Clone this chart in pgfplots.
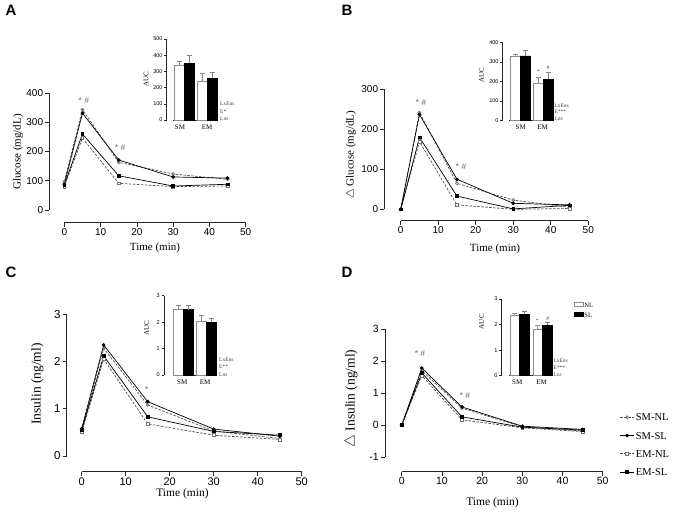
\documentclass[border=0pt]{standalone}
\usepackage{fontspec}
\setmainfont{Liberation Serif}
\setsansfont{Liberation Sans}
\usepackage{pgfplots}
\pgfplotsset{compat=1.18}

\pgfplotsset{
  dataax/.style={anchor=south west, scale only axis, clip=false, hide x axis, hide y axis},
  % separate axes for the offset (GraphPad style) axis lines
  lineax/.style={
    anchor=south west, scale only axis, clip=false, tick pos=left,
    tick align=outside,
    axis line style={black!85, line width=0.7pt},
    tick style={black!85, line width=0.7pt},
    /pgf/number format/assume math mode=true,
  },
  xonly/.style={lineax, height=10pt, ymin=0, ymax=1, axis x line*=bottom, hide y axis,
    xmin=0, xmax=50, xtick={0,10,...,50}, major tick length=4pt,
    xticklabel style={inner sep=1.5pt}},
  yonly/.style={lineax, width=10pt, xmin=0, xmax=1, axis y line*=left, hide x axis,
    major tick length=4pt, yticklabel style={inner sep=2pt}},
  yinonly/.style={lineax, width=10pt, xmin=0, xmax=1, ymin=0, axis y line*=left, hide x axis,
    major tick length=2.5pt, axis line style={line width=0.6pt}, tick style={line width=0.6pt},
    yticklabel style={font=\sffamily\fontsize{5.5}{6}\selectfont, inner sep=1.5pt}},
  inax/.style={
    anchor=south west, scale only axis, clip=false,
    axis x line*=bottom, hide y axis, tick pos=left,
    xmin=0, ymin=0,
    x tick style={draw=none}, major tick length=0pt,
    axis line style={black!85, line width=0.6pt},
    xticklabel style={font=\fontsize{7}{8}\selectfont, yshift=-1pt},
  },
  smnl/.style={black!70, line width=0.7pt, dash pattern=on 2.5pt off 1.5pt, mark=o, mark size=1.5pt, mark options={solid, draw=black!55, fill=white}},
  smsl/.style={black, line width=0.7pt, mark=*, mark size=1.5pt, mark options={solid, fill=black}},
  emnl/.style={black!70, line width=0.7pt, dash pattern=on 2.5pt off 1.5pt, mark=square*, mark size=1.4pt, mark options={solid, draw=black!55, fill=white}},
  emsl/.style={black, line width=0.7pt, mark=square*, mark size=1.4pt, mark options={solid, fill=black}},
  nlbar/.style={ybar, bar width=10pt, bar shift=0pt, fill=white, draw=black!45, line width=0.7pt,
    error bars/.cd, y dir=plus, y explicit, error bar style={black!45, line width=0.6pt},
    error mark options={rotate=90, mark size=2.5pt, black!45, line width=0.6pt}},
  slbar/.style={ybar, bar width=10pt, bar shift=0pt, fill=black, draw=black, line width=0.7pt,
    error bars/.cd, y dir=plus, y explicit, error bar style={black!50, line width=0.6pt},
    error mark options={rotate=90, mark size=2.5pt, black!50, line width=0.6pt}},
}
\newcommand{\panel}[1]{\sffamily\bfseries\fontsize{15}{16}\selectfont #1}
\newcommand{\sig}{\sffamily\fontsize{8.5}{10}\selectfont\color{black!60}}
\newcommand{\stat}{\fontsize{5.5}{6}\selectfont\color{black!75}}
% #1 x of xmin, #2 y of x line, #3 width, #4 tick font size
\newcommand{\xline}[4]{\begin{axis}[xonly, at={(#1,#2)}, width=#3,
  xticklabel style={font=\sffamily\fontsize{#4}{#4}\selectfont}]\end{axis}}
% #1 x of y line, #2 y of ymin, #3 height, #4 tick font size, #5 options
\newcommand{\yline}[5]{\begin{axis}[yonly, at={(#1,#2)}, height=#3,
  yticklabel style={font=\sffamily\fontsize{#4}{#4}\selectfont}, #5]\end{axis}}
\newcommand{\yinline}[4]{\begin{axis}[yinonly, at={(#1,#2)}, height=#3, #4]\end{axis}}

\begin{document}
\begin{tikzpicture}
\useasboundingbox (0pt,0pt) rectangle (675pt,-515pt);

% ---------- A ----------
\node at (11pt,-10pt) {\panel{A}};
\node[rotate=90] at (18pt,-152pt) {\fontsize{11}{13}\selectfont Glucose (mg/dL)};
\node[inner sep=0pt] at (155pt,-248pt) {\fontsize{11}{13}\selectfont Time (min)};
\xline{64.3pt}{-222.7pt}{181.4pt}{10}
\yline{49.3pt}{-210pt}{117pt}{10}{ymin=0, ymax=400, ytick={0,100,...,400}}
\begin{axis}[dataax, at={(64.3pt,-210pt)}, width=181.4pt, height=117pt,
  xmin=0, xmax=50, ymin=0, ymax=400]
  \addplot[smnl] coordinates {(0,97) (5,343) (15,163) (30,123) (45,105)};
  \addplot[smsl] coordinates {(0,88) (5,331) (15,171) (30,113) (45,109)};
  \addplot[emnl] coordinates {(0,80) (5,246) (15,91) (30,80) (45,82)};
  \addplot[emsl] coordinates {(0,85) (5,260) (15,117) (30,82) (45,88)};
  \node at (axis cs:5.4,373) {\sig * \#};
  \node at (axis cs:15.4,215) {\sig * \#};
\end{axis}
\yinline{166.7pt}{-120pt}{81pt}{ymax=500, ytick={0,100,...,500}}
\begin{axis}[inax, at={(173pt,-120pt)}, width=45pt, height=81pt,
  xmax=45, ymax=500, xtick={7,34}, xticklabels={SM,EM}]
  \addplot[nlbar] coordinates {(6,340) +- (0,20) (29.3,238) +- (0,50)};
  \addplot[slbar] coordinates {(16,350) +- (0,47) (39.3,258) +- (0,36)};
\end{axis}
\node[rotate=90] at (146pt,-79pt) {\fontsize{7}{8}\selectfont AUC};
\node[anchor=west, inner sep=0pt] at (220pt,-104pt) {\stat LxEns};
\node[anchor=west, inner sep=0pt] at (220pt,-111.5pt) {\stat E*};
\node[anchor=west, inner sep=0pt] at (220pt,-118.5pt) {\stat Lns};

% ---------- B ----------
\node at (347pt,-10pt) {\panel{B}};
\node[rotate=90] at (351pt,-155pt) {\fontsize{11}{13}\selectfont $\triangle$ Glucose (mg/dL)};
\node[inner sep=0pt] at (495pt,-249pt) {\fontsize{11}{13}\selectfont Time (min)};
\xline{400.7pt}{-220.7pt}{187.6pt}{10}
\yline{384.3pt}{-209.3pt}{120pt}{10}{ymin=0, ymax=300, ytick={0,100,200,300}}
\begin{axis}[dataax, at={(400.7pt,-209.3pt)}, width=187.6pt, height=120pt,
  xmin=0, xmax=50, ymin=0, ymax=300]
  \addplot[smnl] coordinates {(0,0) (5,242) (15,65) (30,23) (45,5)};
  \addplot[smsl] coordinates {(0,0) (5,237) (15,75) (30,15) (45,11)};
  \addplot[emnl] coordinates {(0,0) (5,169) (15,11) (30,0) (45,2)};
  \addplot[emsl] coordinates {(0,0) (5,180) (15,33) (30,1) (45,10)};
  \node at (axis cs:5.4,266) {\sig * \#};
  \node at (axis cs:16.1,106) {\sig * \#};
\end{axis}
\yinline{502.7pt}{-120.3pt}{78pt}{ymax=400, ytick={0,100,...,400}}
\begin{axis}[inax, at={(509pt,-120.3pt)}, width=44pt, height=78pt,
  xmax=44, ymax=400, xtick={11.7,33.7}, xticklabels={SM,EM}]
  \addplot[nlbar] coordinates {(6.3,326) +- (0,14) (29,192) +- (0,31)};
  \addplot[slbar] coordinates {(16,330) +- (0,27) (39,211) +- (0,33)};
\end{axis}
\node at (538.3pt,-71.7pt) {\stat *};
\node at (548.3pt,-67.3pt) {\stat \#};
\node[rotate=90] at (481.7pt,-75pt) {\fontsize{7}{8}\selectfont AUC};
\node[anchor=west, inner sep=0pt] at (554.3pt,-106pt) {\stat LxEns};
\node[anchor=west, inner sep=0pt] at (554.3pt,-112pt) {\stat E***};
\node[anchor=west, inner sep=0pt] at (554.3pt,-119pt) {\stat Lns};

% ---------- C ----------
\node at (11pt,-272pt) {\panel{C}};
\node[rotate=90] at (37.5pt,-384pt) {\fontsize{13.5}{15}\selectfont Insulin (ng/ml)};
\node[inner sep=0pt] at (182.5pt,-494pt) {\fontsize{11.5}{13}\selectfont Time (min)};
\xline{81.7pt}{-471.7pt}{220pt}{11}
\yline{66.7pt}{-456pt}{141.7pt}{11.5}{ymin=0, ymax=3, ytick={0,1,2,3}}
\begin{axis}[dataax, at={(81.7pt,-456pt)}, width=220pt, height=141.7pt,
  xmin=0, xmax=50, ymin=0, ymax=3]
  \addplot[smnl] coordinates {(0,0.55) (5,2.28) (15,1.08) (30,0.53) (45,0.37)};
  \addplot[smsl] coordinates {(0,0.58) (5,2.35) (15,1.15) (30,0.57) (45,0.42)};
  \addplot[emnl] coordinates {(0,0.50) (5,2.05) (15,0.68) (30,0.44) (45,0.35)};
  \addplot[emsl] coordinates {(0,0.55) (5,2.12) (15,0.83) (30,0.52) (45,0.44)};
  \node at (axis cs:14.8,1.40) {\sig *};
\end{axis}
\yinline{164pt}{-375pt}{79.3pt}{ymax=3, ytick={0,1,2,3}}
\begin{axis}[inax, at={(173pt,-375pt)}, width=44pt, height=79.3pt,
  xmax=44, ymax=3, xtick={9.3,32}, xticklabels={SM,EM}]
  \addplot[nlbar] coordinates {(5.3,2.5) +- (0,0.15) (28.7,2.02) +- (0,0.25)};
  \addplot[slbar] coordinates {(15.3,2.47) +- (0,0.15) (38.7,2.0) +- (0,0.14)};
\end{axis}
\node[rotate=90] at (146.7pt,-328.3pt) {\fontsize{7}{8}\selectfont AUC};
\node[anchor=west, inner sep=0pt] at (219pt,-360pt) {\stat LxEns};
\node[anchor=west, inner sep=0pt] at (219pt,-366.7pt) {\stat E**};
\node[anchor=west, inner sep=0pt] at (219pt,-374.3pt) {\stat Lns};

% ---------- D ----------
\node at (347pt,-272pt) {\panel{D}};
\node[rotate=90] at (351pt,-398.5pt) {\fontsize{13.5}{15}\selectfont $\triangle$ Insulin (ng/ml)};
\node[inner sep=0pt] at (492.5pt,-503pt) {\fontsize{11.5}{13}\selectfont Time (min)};
\xline{401.7pt}{-471.7pt}{201pt}{10.5}
\yline{385pt}{-457.3pt}{128.3pt}{10.5}{ymin=-1, ymax=3, ytick={-1,0,1,2,3}}
\begin{axis}[dataax, at={(401.7pt,-457.3pt)}, width=201pt, height=128.3pt,
  xmin=0, xmax=50, ymin=-1, ymax=3,
  legend style={at={(1.0687,0.3706)}, anchor=north west, draw=none, fill=none,
    font=\fontsize{10.5}{12}\selectfont, row sep=7.8pt,
    nodes={inner sep=1.5pt, text height=7.5pt, text depth=0pt}},
  legend cell align=left,
  legend image code/.code={\draw[mark repeat=2, mark phase=2, #1] plot coordinates {(0pt,0pt) (7pt,0pt) (14pt,0pt)};}]
  \addplot[smnl] coordinates {(0,0) (5,1.70) (15,0.53) (30,-0.05) (45,-0.18)};
  \addplot[smsl] coordinates {(0,0) (5,1.78) (15,0.57) (30,-0.03) (45,-0.13)};
  \addplot[emnl] coordinates {(0,0) (5,1.55) (15,0.17) (30,-0.08) (45,-0.20)};
  \addplot[emsl] coordinates {(0,0) (5,1.63) (15,0.26) (30,-0.06) (45,-0.15)};
  \node at (axis cs:4.55,2.22) {\sig * \#};
  \node at (axis cs:15.7,0.94) {\sig * \#};
  \legend{SM-NL,SM-SL,EM-NL,EM-SL}
\end{axis}
\yinline{501.7pt}{-375.7pt}{76.7pt}{ymax=3, ytick={0,1,2,3}}
\begin{axis}[inax, at={(509pt,-375.7pt)}, width=43pt, height=76.7pt,
  xmax=43, ymax=3, xtick={8.3,32.7}, xticklabels={SM,EM},
  legend style={at={(1.43,1.0)}, anchor=north west, draw=none, fill=none,
    font=\fontsize{6.5}{7}\selectfont, row sep=3pt,
    nodes={inner sep=1pt, text height=5pt, text depth=0pt}},
  legend cell align=left,
  legend image code/.code={\draw[#1] (0pt,-2pt) rectangle (9pt,2pt);}]
  \addplot[nlbar, /pgfplots/bar width=9.5pt] coordinates {(5.7,2.35) +- (0,0.09) (28.7,1.83) +- (0,0.15)};
  \addplot[slbar, /pgfplots/bar width=9.5pt] coordinates {(15.3,2.41) +- (0,0.12) (38.2,1.98) +- (0,0.11)};
  \legend{NL,SL}
\end{axis}
\node at (537.3pt,-321pt) {\stat *};
\node at (547.7pt,-318.3pt) {\stat \#};
\node[rotate=90] at (481.7pt,-321.7pt) {\fontsize{7}{8}\selectfont AUC};
\node[anchor=west, inner sep=0pt] at (553.3pt,-361pt) {\stat LxEns};
\node[anchor=west, inner sep=0pt] at (553.3pt,-367.7pt) {\stat E***};
\node[anchor=west, inner sep=0pt] at (553.3pt,-374.3pt) {\stat Lns};
\end{tikzpicture}
\end{document}
